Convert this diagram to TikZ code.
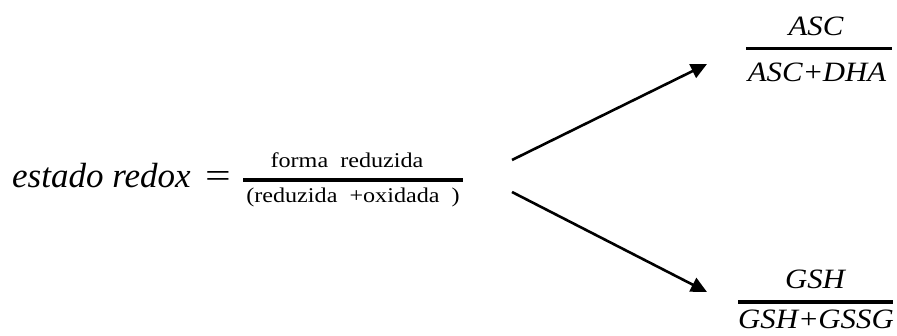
\documentclass[tikz,border=0pt]{standalone}
\usepackage{fontspec}
\setmainfont{Liberation Serif}
\newfontfamily\bigfont[FakeStretch=1.0]{Liberation Serif}
\newfontfamily\eqfont[FakeStretch=1.3]{Liberation Serif}
\newfontfamily\smallfont[FakeStretch=1.15]{Liberation Serif}
\newfontfamily\fracfont[FakeStretch=1.1]{Liberation Serif}
\usetikzlibrary{arrows.meta}
\begin{document}
\begin{tikzpicture}[x=1pt,y=-1pt,
  bigtxt/.style={inner sep=0pt,font=\fontsize{35}{40}\bigfont\itshape},
  eqtxt/.style={inner sep=0pt,font=\fontsize{35}{40}\eqfont},
  smalltxt/.style={inner sep=0pt,font=\fontsize{21}{26}\smallfont},
  fractxt/.style={inner sep=0pt,font=\fontsize{28}{32}\fracfont\itshape},
  fracbar/.style={line width=3.2pt},
  arr/.style={line width=2.6pt,-{Triangle[length=16pt,width=15pt]}}]
\useasboundingbox (0,0) rectangle (897,336);
% left side
\node[bigtxt,anchor=base west] (lhs) at (12,188) {estado redox};
\node[eqtxt,anchor=base] (eq) at (218,188) {=};
% main fraction
\coordinate (barL) at (243,180);
\coordinate (barR) at (463,180);
\draw[fracbar] (barL) -- (barR);
\node[smalltxt,anchor=base] (num) at (347,168) {forma\ \ reduzida};
\node[smalltxt,anchor=base] (den) at (353,203) {(reduzida\ \ +oxidada\ \ )};
% arrow start points
\coordinate (s1) at (512,160);
\coordinate (s2) at (512,192);
% top fraction
\draw[fracbar] (746,48.5) -- (892,48.5);
\node[fractxt,anchor=base] (ascn) at (816,36) {ASC};
\node[fractxt,anchor=base] (ascd) at (817,82) {ASC\kern2pt\upshape+\kern1pt\itshape DHA};
% bottom fraction
\draw[fracbar] (738,302) -- (893,302);
\node[fractxt,anchor=base] (gshn) at (815,289) {GSH};
\node[fractxt,anchor=base] (gshd) at (816,329) {GSH\kern2pt\upshape+\kern1pt\itshape GSSG};
% arrow end points
\coordinate (t1) at (707,64);
\coordinate (t2) at (707,292);
\draw[arr] (s1) -- (t1);
\draw[arr] (s2) -- (t2);
\end{tikzpicture}
\end{document}
